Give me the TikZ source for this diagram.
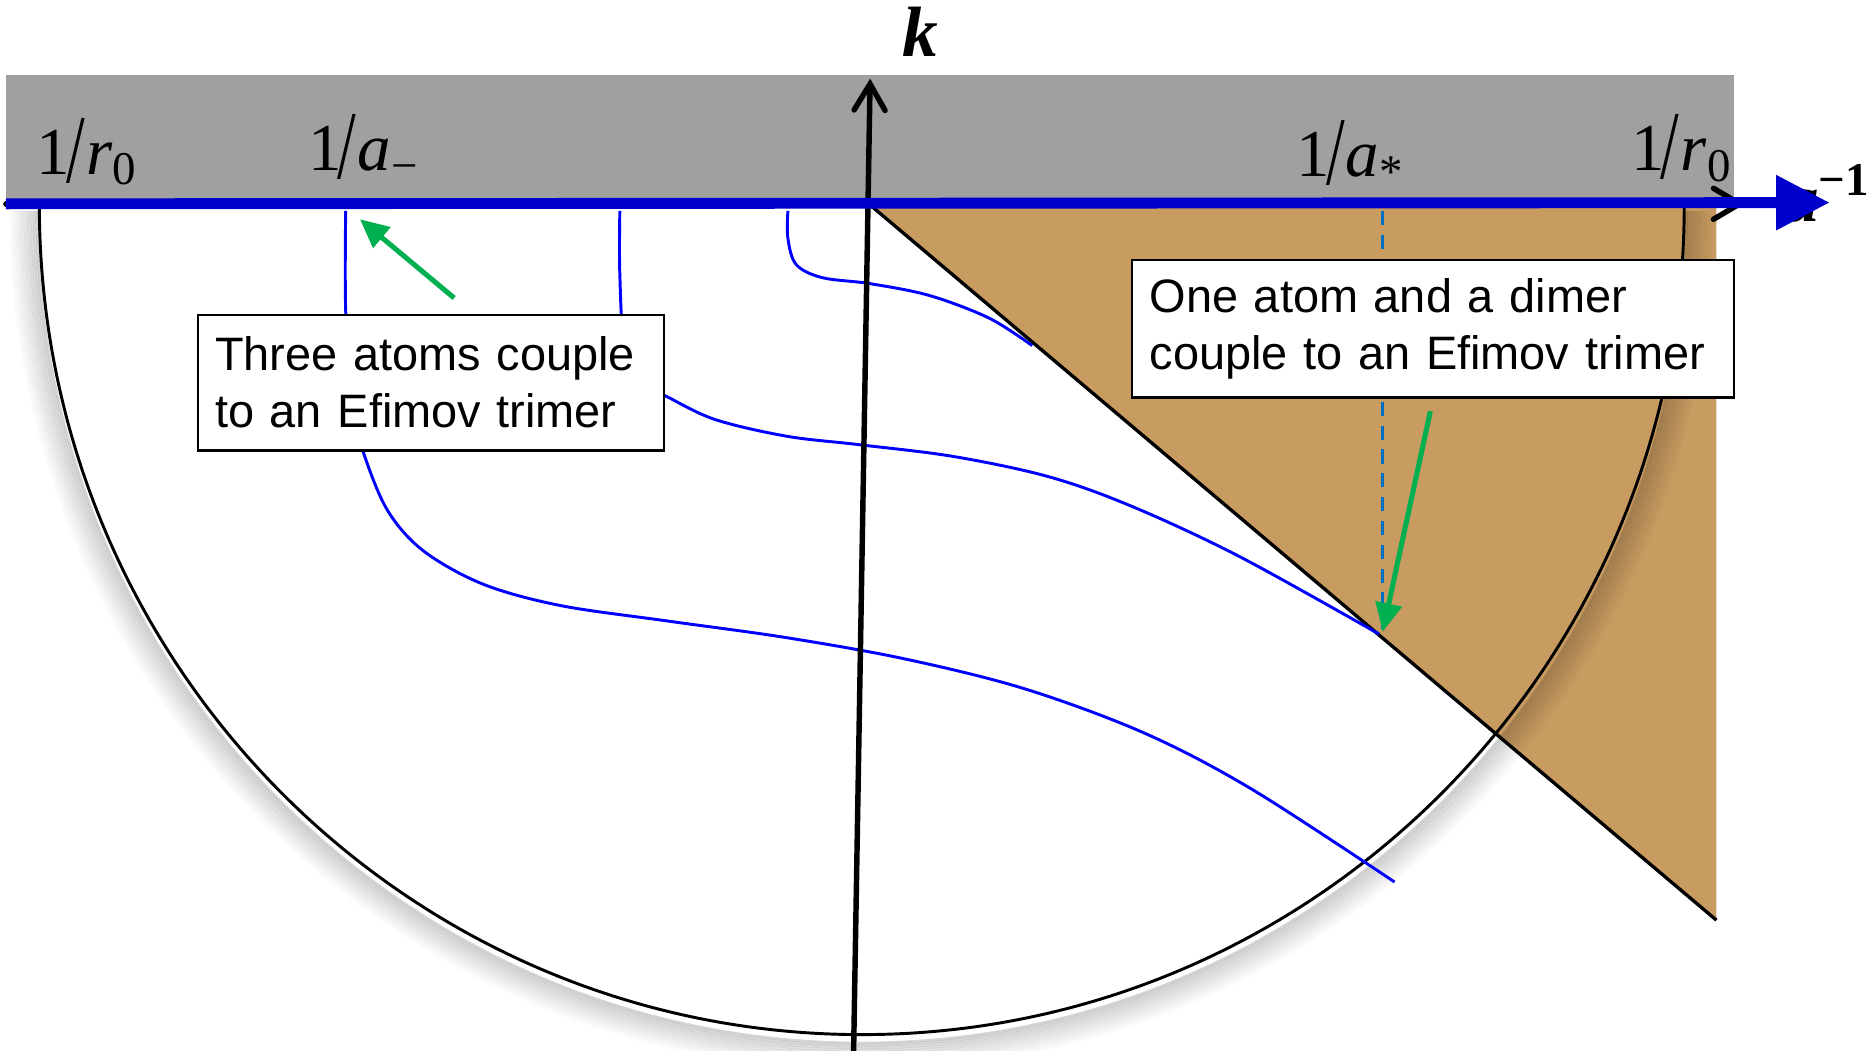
\documentclass[tikz,border=0pt]{standalone}
\usepackage{fontspec}
\setmainfont{Liberation Serif}
\newfontfamily\boxfont{Liberation Sans}
\usetikzlibrary{arrows.meta}
\definecolor{bandgray}{HTML}{A0A0A0}
\definecolor{tanfill}{HTML}{C89B61}
\definecolor{axisblue}{HTML}{0000CC}
\definecolor{curveblue}{HTML}{0000FF}
\definecolor{dashblue}{HTML}{0070C0}
\definecolor{pointgreen}{HTML}{00B050}
\newcommand{\oneover}[2]{1\kern-.06em\raisebox{-.12em}{\scalebox{1}[1.45]{/}}\kern.02em\textit{#1}\textsubscript{#2}}

\begin{document}
\begin{tikzpicture}[x=0.1mm,y=-0.1mm,
 note/.style={draw=black,line width=0.5pt,fill=white,align=left,inner xsep=1.45mm,font=\boxfont\fontsize{11.2}{13.6}\selectfont},
 lab/.style={anchor=base west,inner sep=0pt,font=\fontsize{16}{18}\selectfont},
 curve/.style={draw=curveblue,line width=0.7pt},
 pointer/.style={draw=pointgreen,line width=1.2pt,-{Triangle[length=2.4mm,width=2.2mm]}}]
\useasboundingbox (0,0) rectangle (1568,881);
\fill[bandgray] (5,63) rectangle (1455,170);
\fill[tanfill] (730,172) -- (1440,172) -- (1440,772) -- cycle;
\foreach \d in {0,...,11}
 \draw[black,opacity={0.17*(12-\d)/12},line width=0.22mm] (723-692-2*\d,177) arc[start angle=180,end angle=0,x radius=692+2*\d,y radius=698+2*\d];
\draw[line width=0.7pt] (33,172) arc[start angle=180,end angle=0,x radius=690,y radius=696];
\draw[line width=0.8pt] (730,172) -- (1440,772);

\draw[curve] plot[smooth,tension=0.55] coordinates {(290,177) (290,260) (295,340) (305,380) (325,428) (355,462) (405,490) (470,508) (560,521) (660,535) (760,553) (860,578) (960,615) (1050,662) (1170,740)};
\draw[curve] plot[smooth,tension=0.55] coordinates {(520,177) (520,230) (524,290) (540,322) (560,333) (600,352) (660,366) (720,373) (800,383) (880,400) (950,425) (1040,467) (1157,532)};
\draw[curve] plot[smooth,tension=0.55] coordinates {(661,177) (661,200) (668,222) (690,233) (730,238) (780,248) (830,267) (866,290)};
\draw[dashblue,line width=0.8pt,dash pattern=on 1.2mm off 0.8mm] (1160,177) -- (1160,528);

\node[note,text width=36.2mm,minimum height=11.4mm] (threebox) at (361.5,321) {Three atoms couple\\to an Efimov trimer};
\node[note,text width=47.6mm,minimum height=11.5mm] (onebox) at (1202.5,276) {One atom and a dimer\\couple to an Efimov trimer};

\coordinate (threetail) at (381,250);
\coordinate (threehead) at (302,184);
\coordinate (onetail) at (1200,345);
\coordinate (onehead) at (1160,530);
\draw[pointer] (threetail) -- (threehead);
\draw[pointer] (onetail) -- (onehead);

\coordinate (kbot) at (716,890);
\coordinate (ktop) at (730,66);
\draw[line width=1.3pt,line cap=round,-{Straight Barb[length=2.2mm,width=2.6mm,line cap=round]}] (kbot) -- (ktop);
\node[anchor=base,inner sep=0pt,font=\fontsize{17}{19}\selectfont\bfseries\itshape] (klab) at (772,47) {k};

\node[lab] (rleft) at (30,146) {\oneover{r}{0}};
\node[lab] (aminus) at (258,143) {\oneover{a}{−}};
\node[lab] (astar) at (1087,148) {\oneover{a}{*}};
\node[lab] (rright) at (1368,143) {\oneover{r}{0}};

\coordinate (xleft) at (5,171);
\coordinate (xend) at (1464,171);
\coordinate (xtip) at (1535,170);
\draw[line width=1.3pt,line cap=round,-{Straight Barb[length=2.2mm,width=2.6mm,line cap=round]}] (xleft) -- (xend);
\node[lab,font=\fontsize{16}{18}\selectfont\bfseries\itshape] (alab) at (1497,186) {a\textsuperscript{\upshape −1}};
\draw[axisblue,line width=2.6pt,-{Triangle[length=4.5mm,width=4.4mm]}] (xleft) -- (xtip);
\end{tikzpicture}
\end{document}
